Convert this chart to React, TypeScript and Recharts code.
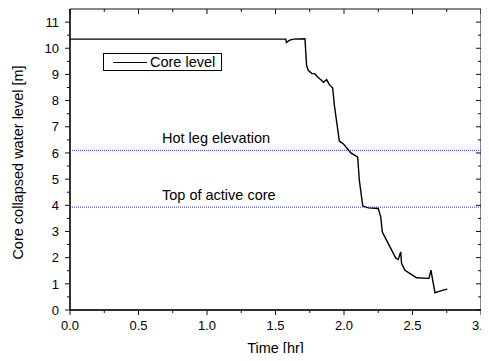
import { Legend, Line, LineChart, ReferenceArea, ReferenceLine, XAxis, YAxis } from 'recharts';

// Core collapsed water level vs. time.
const timeHr = [
  0, 1.575, 1.58, 1.6, 1.63, 1.715, 1.727, 1.74, 1.764, 1.788, 1.81, 1.837, 1.85, 1.873,
  1.893, 1.917, 1.93, 1.966, 1.995, 2.02, 2.05, 2.08, 2.1, 2.112, 2.137, 2.178, 2.25,
  2.268, 2.28, 2.31, 2.348, 2.377, 2.396, 2.414, 2.42, 2.445, 2.48, 2.53, 2.62, 2.635,
  2.645, 2.664, 2.7, 2.725, 2.754,
];
const coreLevel = [
  10.35, 10.35, 10.22, 10.3, 10.35, 10.36, 9.34, 9.15, 9.04, 9.02, 8.89, 8.77, 8.7, 8.8,
  8.61, 8.49, 7.81, 6.45, 6.35, 6.19, 6.0, 5.91, 5.84, 4.95, 3.97, 3.9, 3.88,
  3.56, 2.98, 2.67, 2.29, 1.99, 1.93, 2.22, 1.78, 1.52, 1.4, 1.23, 1.21, 1.52,
  1.21, 0.66, 0.72, 0.76, 0.8,
];

const HOT_LEG = 6.1;
const ACTIVE_CORE_TOP = 3.93;

const X_MAX = 3;
const Y_MAX = 11.5;
const xTicks = [0, 0.25, 0.5, 0.75, 1, 1.25, 1.5, 1.75, 2, 2.25, 2.5, 2.75, 3];
const yTicks = [0, 0.5, 1, 1.5, 2, 2.5, 3, 3.5, 4, 4.5, 5, 5.5, 6, 6.5, 7, 7.5, 8, 8.5, 9, 9.5, 10, 10.5, 11];

const data = timeHr.map((t, i) => ({ t, level: coreLevel[i] }));

const W = 489;
const H = 361;
const Y_AXIS_W = 70;
const X_AXIS_H = 51;
const MARGIN = { top: 9, right: 8, bottom: 0, left: 0 };
const PLOT_TOP = MARGIN.top;
const PLOT_RIGHT = W - MARGIN.right;

const FONT = '"Liberation Sans", Arial, sans-serif';
const AXIS = '#111';

const isHalf = (v: number) => Math.abs(v * 2 - Math.round(v * 2)) < 1e-6;
const isInt = (v: number) => Math.abs(v - Math.round(v)) < 1e-6;

// bottom tick: outward mark + label, and the inward mark on the top edge
function XTick(props: any) {
  const { x, y, payload } = props;
  const v = Number(payload.value);
  const major = isHalf(v);
  const len = major ? 5 : 3;
  return (
    <g>
      <line x1={x} x2={x} y1={y} y2={y + len} stroke={AXIS} />
      <line x1={x} x2={x} y1={PLOT_TOP} y2={PLOT_TOP + len} stroke={AXIS} />
      {major && (
        <text x={x} y={y + 19.5} textAnchor="middle" fontSize={13} fill="#000" fontFamily={FONT}>
          {v.toFixed(1)}
        </text>
      )}
    </g>
  );
}

// left tick: outward mark + label, and the inward mark on the right edge
function YTick(props: any) {
  const { x, y, payload } = props;
  const v = Number(payload.value);
  const major = isInt(v);
  const len = major ? 5 : 3;
  return (
    <g>
      <line x1={x - len} x2={x} y1={y} y2={y} stroke={AXIS} />
      <line x1={PLOT_RIGHT - len} x2={PLOT_RIGHT} y1={y} y2={y} stroke={AXIS} />
      {major && (
        <text x={x - 11} y={y + 4.7} textAnchor="end" fontSize={13} fill="#000" fontFamily={FONT}>
          {v}
        </text>
      )}
    </g>
  );
}

function LegendBox() {
  return (
    <div
      style={{
        border: '1px solid #000',
        width: 117,
        height: 16,
        display: 'flex',
        alignItems: 'center',
        background: '#fff',
        fontFamily: FONT,
      }}
    >
      <svg width={46} height={16} style={{ display: 'block' }}>
        <line x1={9} x2={43} y1={8.5} y2={8.5} stroke="#000" strokeWidth={1.2} />
      </svg>
      <span style={{ fontSize: 14.5, lineHeight: '16px', color: '#000' }}>Core level</span>
    </div>
  );
}

export default function App() {
  return (
    <div style={{ width: W, height: H, margin: -8, background: '#fff' }}>
      <LineChart width={W} height={H} data={data} margin={MARGIN}>
        <XAxis
          dataKey="t"
          type="number"
          domain={[0, X_MAX]}
          ticks={xTicks}
          allowDataOverflow
          height={X_AXIS_H}
          tickSize={0}
          tickMargin={0}
          tickLine={false}
          axisLine={{ stroke: AXIS, strokeWidth: 1.4 }}
          tick={XTick}
          interval={0}
          label={{
            content: (p: any) => (
              <text
                x={p.viewBox.x + p.viewBox.width / 2}
                y={353}
                textAnchor="middle"
                fontSize={14.5}
                fill="#000"
                fontFamily={FONT}
              >
                Time [hr]
              </text>
            ),
          }}
        />
        <YAxis
          type="number"
          domain={[0, Y_MAX]}
          ticks={yTicks}
          allowDataOverflow
          width={Y_AXIS_W}
          tickSize={0}
          tickMargin={0}
          tickLine={false}
          axisLine={{ stroke: AXIS, strokeWidth: 1.4 }}
          tick={YTick}
          interval={0}
          label={{
            content: (p: any) => {
              const cy = p.viewBox.y + p.viewBox.height / 2 + 3;
              return (
                <text
                  x={23}
                  y={cy}
                  transform={`rotate(-90 23 ${cy})`}
                  textAnchor="middle"
                  fontSize={14.5}
                  fill="#000"
                  fontFamily={FONT}
                >
                  Core collapsed water level [m]
                </text>
              );
            },
          }}
        />
        {/* plot frame */}
        <ReferenceArea
          x1={0}
          x2={X_MAX}
          y1={0}
          y2={Y_MAX}
          fill="none"
          fillOpacity={0}
          stroke={AXIS}
          strokeWidth={1}
          ifOverflow="visible"
        />
        <ReferenceLine
          y={HOT_LEG}
          stroke="#2a2aff"
          strokeWidth={1}
          strokeDasharray="1 1"
          label={{
            content: (p: any) => (
              <text x={p.viewBox.x + 92} y={p.viewBox.y - 7} fontSize={14.5} fill="#000" fontFamily={FONT}>
                Hot leg elevation
              </text>
            ),
          }}
        />
        <ReferenceLine
          y={ACTIVE_CORE_TOP}
          stroke="#2a2aff"
          strokeWidth={1}
          strokeDasharray="1 1"
          label={{
            content: (p: any) => (
              <text x={p.viewBox.x + 92} y={p.viewBox.y - 7} fontSize={14.5} fill="#000" fontFamily={FONT}>
                Top of active core
              </text>
            ),
          }}
        />
        <Line
          type="linear"
          dataKey="level"
          stroke="#000"
          strokeWidth={1.4}
          dot={false}
          isAnimationActive={false}
        />
        <Legend
          layout="vertical"
          align="center"
          verticalAlign="middle"
          wrapperStyle={{ left: 103, top: 53, width: 'auto', height: 'auto' }}
          content={() => <LegendBox />}
        />
      </LineChart>
    </div>
  );
}
